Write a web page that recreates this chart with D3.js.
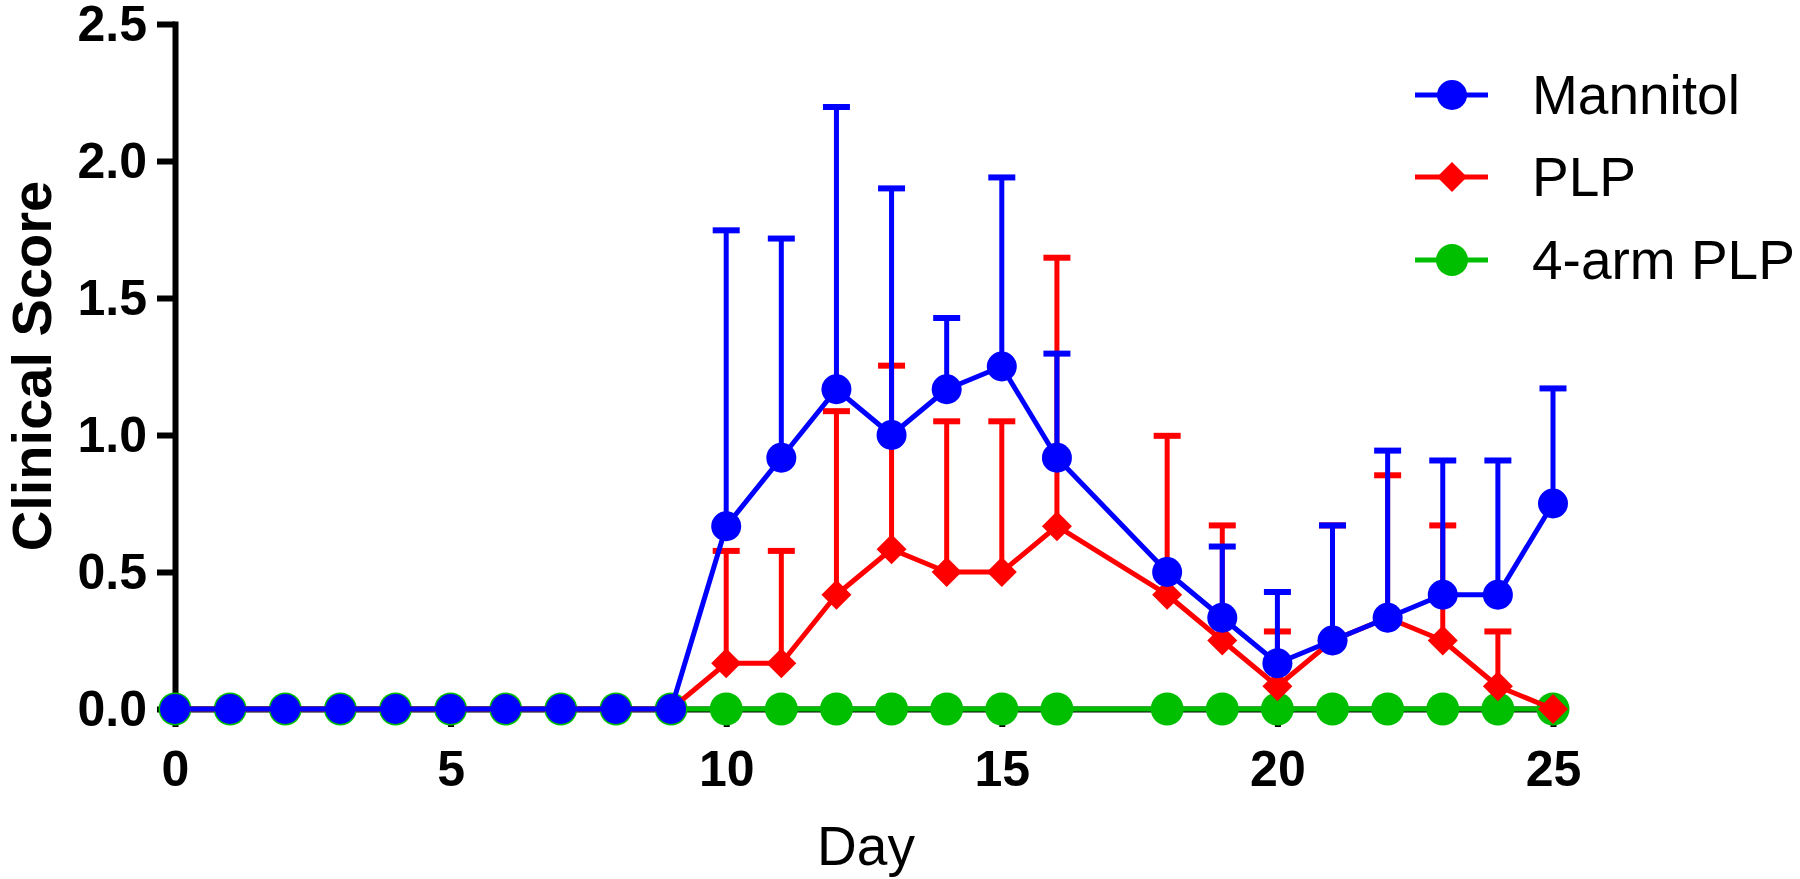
<!DOCTYPE html>
<html>
<head>
<meta charset="utf-8">
<script src="https://cdn.jsdelivr.net/npm/d3@7"></script>
<style>
  html, body { margin: 0; padding: 0; background: #fff; }
  svg { display: block; }
</style>
</head>
<body>
<div id="chart"></div>
<script>
// days measured (no reading on day 17)
const days = [0, 1, 2, 3, 4, 5, 6, 7, 8, 9, 10, 11, 12, 13, 14, 15, 16, 18, 19, 20, 21, 22, 23, 24, 25];

const mannitolMean = [0, 0, 0, 0, 0, 0, 0, 0, 0, 0, 0.667, 0.917, 1.167, 1.0, 1.167, 1.25, 0.917, 0.5, 0.333, 0.167, 0.25, 0.333, 0.417, 0.417, 0.75];
const mannitolErr  = [0, 0, 0, 0, 0, 0, 0, 0, 0, 0, 1.08, 0.80, 1.03, 0.90, 0.26, 0.69, 0.38, 0, 0.26, 0.26, 0.42, 0.61, 0.49, 0.49, 0.42];

const plpMean = [0, 0, 0, 0, 0, 0, 0, 0, 0, 0, 0.167, 0.167, 0.417, 0.583, 0.5, 0.5, 0.667, 0.417, 0.25, 0.083, 0.25, 0.333, 0.25, 0.083, 0];
const plpErr  = [0, 0, 0, 0, 0, 0, 0, 0, 0, 0, 0.41, 0.41, 0.67, 0.67, 0.55, 0.55, 0.98, 0.58, 0.42, 0.2, 0.42, 0.52, 0.42, 0.2, 0];

const armMean = [0, 0, 0, 0, 0, 0, 0, 0, 0, 0, 0, 0, 0, 0, 0, 0, 0, 0, 0, 0, 0, 0, 0, 0, 0];
const armErr  = [0, 0, 0, 0, 0, 0, 0, 0, 0, 0, 0, 0, 0, 0, 0, 0, 0, 0, 0, 0, 0, 0, 0, 0, 0];

const seriesNames = ['Mannitol', 'PLP', '4-arm PLP'];
const xTicks = [0, 5, 10, 15, 20, 25];
const yTicks = [0, 0.5, 1.0, 1.5, 2.0, 2.5];

const width = 1800, height = 879;
const font = '"Liberation Sans", Arial, Helvetica, sans-serif';

const svg = d3.select('#chart').append('svg')
  .attr('width', width)
  .attr('height', height);

const x = d3.scaleLinear().domain([0, 25]).range([175, 1553]);
const y = d3.scaleLinear().domain([0, 2.5]).range([709, 24]);

// axes
const yAxis = svg.append('g')
  .attr('transform', `translate(${x(0)},0)`)
  .call(d3.axisLeft(y).tickValues(yTicks).tickFormat(d3.format('.1f')).tickSize(18).tickSizeOuter(0).tickPadding(10));

const xAxis = svg.append('g')
  .attr('transform', `translate(0,${y(0)})`)
  .call(d3.axisBottom(x).tickValues(xTicks).tickSize(18).tickSizeOuter(0).tickPadding(23));

[yAxis, xAxis].forEach(g => {
  g.select('.domain').attr('stroke', '#000').attr('stroke-width', 6).attr('stroke-linecap', 'square');
  g.selectAll('.tick line').attr('stroke', '#000').attr('stroke-width', 6);
  g.selectAll('.tick text')
    .attr('fill', '#000')
    .style('font-family', font)
    .style('font-size', '50px')
    .style('font-weight', 'bold');
});

// axis titles
svg.append('text')
  .attr('transform', `translate(51,366) rotate(-90)`)
  .attr('text-anchor', 'middle')
  .style('font-family', font)
  .style('font-size', '56px')
  .style('font-weight', 'bold')
  .text('Clinical Score');

svg.append('text')
  .attr('x', (x(0) + x(25)) / 2 + 2)
  .attr('y', 865)
  .attr('text-anchor', 'middle')
  .style('font-family', font)
  .style('font-size', '55px')
  .text('Day');

// series, drawn bottom to top
const series = [
  { name: seriesNames[2], mean: armMean, err: armErr, color: '#00BE00', shape: 'circle', r: 16.5 },
  { name: seriesNames[1], mean: plpMean, err: plpErr, color: '#FF0000', shape: 'diamond', r: 15 },
  { name: seriesNames[0], mean: mannitolMean, err: mannitolErr, color: '#0000FF', shape: 'circle', r: 15 }
];

const line = d3.line().x(d => x(d.day)).y(d => y(d.v));

function drawMarker(g, shape, r, color) {
  if (shape === 'circle') {
    g.append('circle').attr('r', r).attr('fill', color);
  } else {
    g.append('path')
      .attr('d', `M0,${-r}L${r},0L0,${r}L${-r},0Z`)
      .attr('fill', color);
  }
}

series.forEach(s => {
  const pts = days.map((d, i) => ({ day: d, v: s.mean[i], e: s.err[i] }));
  const g = svg.append('g');

  // upper error bars
  const eb = g.selectAll('.eb').data(pts.filter(p => p.e > 0)).join('g');
  eb.append('line')
    .attr('x1', p => x(p.day)).attr('x2', p => x(p.day))
    .attr('y1', p => y(p.v)).attr('y2', p => y(p.v + p.e))
    .attr('stroke', s.color).attr('stroke-width', 5);
  eb.append('line')
    .attr('x1', p => x(p.day) - 13.5).attr('x2', p => x(p.day) + 13.5)
    .attr('y1', p => y(p.v + p.e)).attr('y2', p => y(p.v + p.e))
    .attr('stroke', s.color).attr('stroke-width', 6);

  g.append('path')
    .datum(pts)
    .attr('d', line)
    .attr('fill', 'none')
    .attr('stroke', s.color)
    .attr('stroke-width', 5)
    .attr('stroke-linejoin', 'round');

  g.selectAll('.mk').data(pts).join('g')
    .attr('transform', p => `translate(${x(p.day)},${y(p.v)})`)
    .each(function () { drawMarker(d3.select(this), s.shape, s.r, s.color); });
});

// legend
const legendRows = [
  { name: seriesNames[0], color: '#0000FF', shape: 'circle', r: 15, y: 95 },
  { name: seriesNames[1], color: '#FF0000', shape: 'diamond', r: 15, y: 177 },
  { name: seriesNames[2], color: '#00BE00', shape: 'circle', r: 16, y: 260 }
];

const legend = svg.append('g');
legendRows.forEach(row => {
  legend.append('line')
    .attr('x1', 1415).attr('x2', 1488)
    .attr('y1', row.y).attr('y2', row.y)
    .attr('stroke', row.color).attr('stroke-width', 5);
  const m = legend.append('g').attr('transform', `translate(1452,${row.y})`);
  drawMarker(m, row.shape, row.r, row.color);
  legend.append('text')
    .attr('x', 1532)
    .attr('y', row.y + 19)
    .style('font-family', font)
    .style('font-size', '55px')
    .text(row.name);
});
</script>
</body>
</html>
